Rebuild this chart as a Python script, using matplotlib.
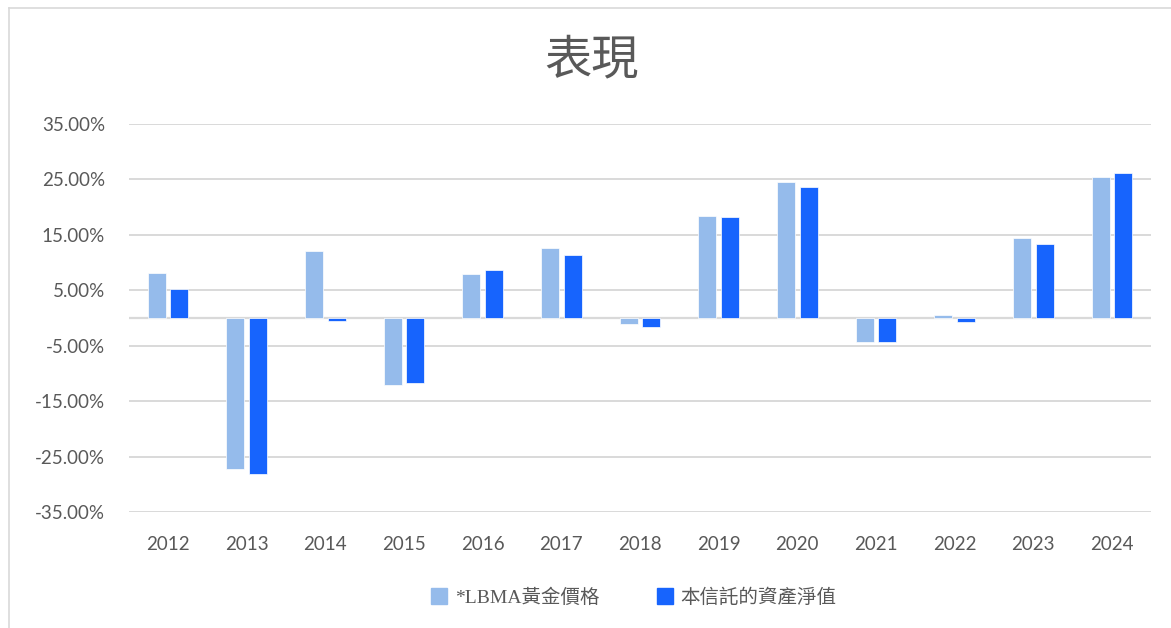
import numpy as np
import matplotlib
matplotlib.use("Agg")
import matplotlib.pyplot as plt
from matplotlib.lines import Line2D

# Données
annees = ['2012', '2013', '2014', '2015', '2016', '2017', '2018',
          '2019', '2020', '2021', '2022', '2023', '2024']
lbma_or = [8.2, -27.3, 12.0, -12.1, 8.0, 12.6, -1.0,
           18.4, 24.5, -4.3, 0.5, 14.5, 25.5]
vl_fiducie = [5.2, -28.1, -0.6, -11.8, 8.6, 11.3, -1.6,
              18.2, 23.7, -4.3, -0.8, 13.3, 26.1]
graduations = [35, 25, 15, 5, -5, -15, -25, -35]
noms_series = ['*LBMA黃金價格', '本信託的資產淨值']

gris = '#595959'
clair = '#95BBEB'
fonce = '#1764FD'

fig = plt.figure(figsize=(11.71, 6.28), dpi=100)
ax = fig.add_axes([128.7 / 1171, 1 - 512 / 628, (1151.3 - 128.7) / 1171, 388 / 628])

x = np.arange(len(annees))
larg = 0.23
ax.bar(x - 0.143, lbma_or, larg, color=clair, edgecolor='white', linewidth=0.5, zorder=3)
ax.bar(x + 0.143, vl_fiducie, larg, color=fonce, edgecolor='white', linewidth=0.5, zorder=3)

ax.set_xlim(-0.5, len(annees) - 0.5)
ax.set_ylim(-35, 35)
ax.set_yticks(graduations)
ax.set_yticklabels([f'{v:.2f}%' for v in graduations])
ax.set_xticks(x)
ax.set_xticklabels(annees)
ax.grid(axis='y', color='#d9d9d9', linewidth=1.4, zorder=0)
ax.axhline(0, color='#d9d9d9', linewidth=1.6, zorder=2)
for s in ax.spines.values():
    s.set_visible(False)
ax.tick_params(axis='both', length=0, labelsize=13.5, labelcolor=gris)
ax.tick_params(axis='y', pad=17)
ax.tick_params(axis='x', pad=17)
for t in ax.get_xticklabels() + ax.get_yticklabels():
    t.set_family('Lato')

fig.text(592 / 1171, 1 - 60 / 628, '表現', ha='center', va='center',
         fontsize=34, color=gris, family=['Noto Sans CJK TC', 'DejaVu Sans'])

poignees = [Line2D([], [], marker='s', linestyle='none', markersize=11,
                   markerfacecolor=c, markeredgecolor=c) for c in (clair, fonce)]
leg = fig.legend(poignees, noms_series, loc='center', bbox_to_anchor=(634 / 1171, 1 - 598 / 628),
                 ncol=2, frameon=False, handlelength=0.8, handletextpad=0.4, columnspacing=3.0,
                 prop={'family': ['Liberation Serif', 'Noto Sans CJK TC'], 'size': 14})
for t in leg.get_texts():
    t.set_color(gris)

# cadre gris autour du graphique
fig.add_artist(Line2D([9 / 1171, 9 / 1171], [0, 1 - 8 / 628], transform=fig.transFigure,
                      color='#d9d9d9', linewidth=1.2))
fig.add_artist(Line2D([9 / 1171, 1], [1 - 8 / 628, 1 - 8 / 628], transform=fig.transFigure,
                      color='#d9d9d9', linewidth=1.2))

fig.savefig('out.png', dpi=100, facecolor='white')
